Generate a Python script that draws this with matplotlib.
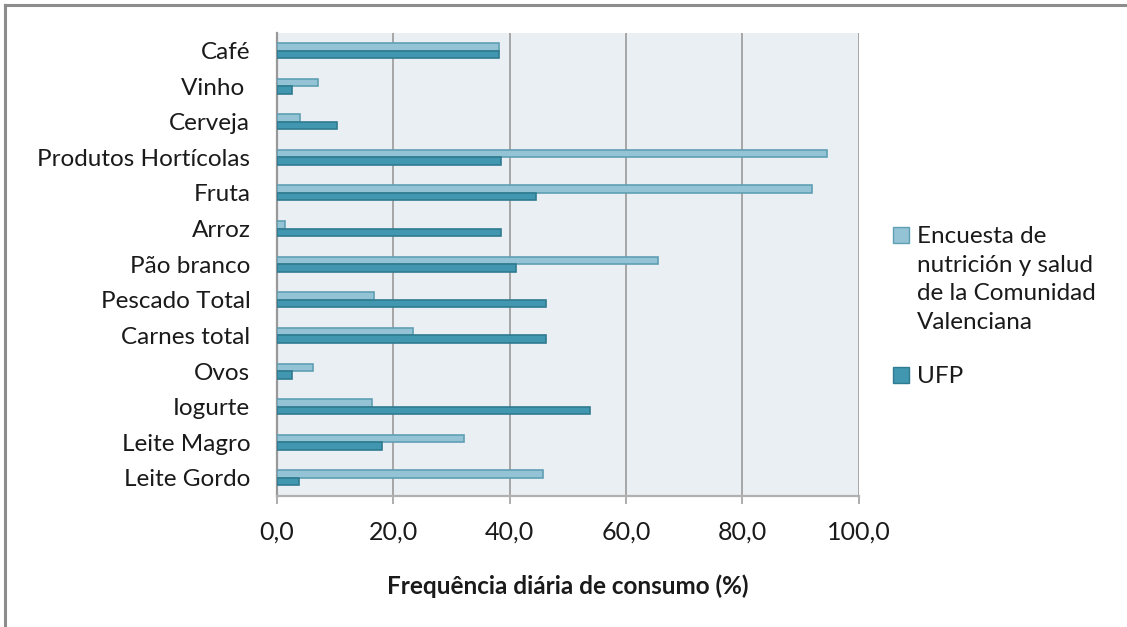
import matplotlib
matplotlib.use("Agg")
import matplotlib.pyplot as plt
from matplotlib.patches import Rectangle
from matplotlib.lines import Line2D
import numpy as np

# Food categories, listed top to bottom
categories = [
    "Café", "Vinho ", "Cerveja", "Produtos Hortícolas", "Fruta", "Arroz",
    "Pão branco", "Pescado Total", "Carnes total", "Ovos", "Iogurte",
    "Leite Magro", "Leite Gordo",
]
series_names = [
    "Encuesta de\nnutrición y salud\nde la Comunidad\nValenciana",
    "UFP",
]
# Daily consumption frequency (%)
encuesta_cv = [38.2, 7.1, 4.0, 94.5, 92.0, 1.4, 65.6, 16.7, 23.4, 6.2, 16.3, 32.1, 45.8]
ufp = [38.2, 2.7, 10.3, 38.5, 44.5, 38.5, 41.2, 46.3, 46.3, 2.7, 53.8, 18.1, 3.8]
x_ticks = [0, 20, 40, 60, 80, 100]
x_label = "Frequência diária de consumo (%)"

fill_colors = ["#93c3d5", "#4097af"]
edge_colors = ["#5f9fb3", "#2f7b90"]
FONT = ["Lato", "DejaVu Sans"]
TXT = "#1a1a1a"

W, H = 1127, 627
fig = plt.figure(figsize=(W / 100, H / 100), dpi=100)
fig.patch.set_facecolor("white")

# Plot area in pixel coordinates
left, right, top, bottom = 276.7, 858.7, 32.7, 495.7
ax = fig.add_axes([left / W, 1 - bottom / H, (right - left) / W, (bottom - top) / H])
ax.set_facecolor("#e9eff3")

n = len(categories)
pos = np.arange(n)[::-1].astype(float)
bh = 0.21
ax.barh(pos + bh / 2, encuesta_cv, height=bh, color=fill_colors[0],
        edgecolor=edge_colors[0], linewidth=1.2, zorder=3)
ax.barh(pos - bh / 2, ufp, height=bh, color=fill_colors[1],
        edgecolor=edge_colors[1], linewidth=1.2, zorder=3)

ax.set_xlim(0, 100)
ax.set_ylim(-0.5, n - 0.5)
ax.set_xticks(x_ticks)
ax.set_xticklabels([f"{v:.1f}".replace(".", ",") for v in x_ticks],
                   fontsize=18, family=FONT, color=TXT)
ax.set_yticks(pos)
ax.set_yticklabels(categories, fontsize=17.5, family=FONT, color=TXT)
ax.tick_params(axis="y", length=0, pad=19)
ax.tick_params(axis="x", length=6, width=1.2, color="#a0a0a0", pad=12)

ax.grid(axis="x", color="#a0a0a0", linewidth=1.3, zorder=1)
ax.set_axisbelow(True)
for side in ["top", "right"]:
    ax.spines[side].set_visible(False)
ax.spines["left"].set_color("#999999")
ax.spines["left"].set_linewidth(1.6)
ax.spines["bottom"].set_color("#b0b0b0")
ax.spines["bottom"].set_linewidth(1.6)

ax.set_xlabel(x_label, fontsize=17.5, fontweight="bold", family=FONT,
              color=TXT, labelpad=22)

# Legend drawn beside the plot area
def fx(px):
    return px / W

def fy(py):
    return 1 - py / H

legend_rows = [(235, 0), (375, 1)]
for y, i in legend_rows:
    fig.patches.append(Rectangle((fx(893), fy(y + 8)), 16 / W, 16 / H,
                                 transform=fig.transFigure,
                                 facecolor=fill_colors[i], edgecolor=edge_colors[i],
                                 linewidth=1.0))
    fig.text(fx(917), fy(y - 9), series_names[i], fontsize=17.5, family=FONT,
             color=TXT, va="top", ha="left", linespacing=1.45)

# Frame on the top and left edges
fig.add_artist(Line2D([fx(5), fx(W)], [fy(5), fy(5)], color="#8c8c8c",
                      linewidth=2.2, transform=fig.transFigure))
fig.add_artist(Line2D([fx(5), fx(5)], [fy(5), fy(H)], color="#8c8c8c",
                      linewidth=2.2, transform=fig.transFigure))

fig.savefig("out.png", dpi=100)
